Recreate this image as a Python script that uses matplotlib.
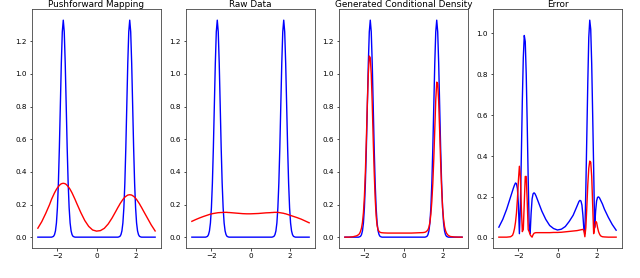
import matplotlib
matplotlib.use("Agg")
import matplotlib.pyplot as plt

# shared x sample positions
x = [-3.0, -2.8, -2.6, -2.4,
     -2.3, -2.25, -2.2, -2.15, -2.1, -2.05, -2.0, -1.95, -1.9, -1.85, -1.8, -1.75, -1.7,
     -1.65, -1.6, -1.55, -1.5, -1.45, -1.4, -1.35, -1.3, -1.25, -1.2, -1.15, -1.1,
     -1.0, -0.8, -0.6, -0.4, -0.2, 0.0, 0.2, 0.4, 0.6, 0.8, 1.0,
     1.1, 1.15, 1.2, 1.25, 1.3, 1.35, 1.4, 1.45, 1.5, 1.55, 1.6, 1.65, 1.7,
     1.75, 1.8, 1.85, 1.9, 1.95, 2.0, 2.05, 2.1, 2.15, 2.2, 2.25, 2.3,
     2.4, 2.6, 2.8, 3.0]

# true conditional density (blue, panels 1-3)
true_density = [0, 0, 0, 0,
                0, 0.002, 0.005, 0.015, 0.038, 0.087, 0.18, 0.331, 0.547, 0.807, 1.065, 1.258, 1.33,
                1.258, 1.065, 0.807, 0.547, 0.331, 0.18, 0.087, 0.038, 0.015, 0.005, 0.002, 0,
                0, 0, 0, 0, 0, 0, 0, 0, 0, 0, 0,
                0, 0.002, 0.005, 0.015, 0.038, 0.087, 0.18, 0.331, 0.547, 0.807, 1.065, 1.258, 1.33,
                1.258, 1.065, 0.807, 0.547, 0.331, 0.18, 0.087, 0.038, 0.015, 0.005, 0.002, 0,
                0, 0, 0, 0]

# pushforward mapping estimate (red, panel 1)
pushforward = [0.055, 0.095, 0.145, 0.20,
               0.232, 0.245, 0.258, 0.271, 0.282, 0.293, 0.302, 0.310, 0.317, 0.323, 0.327, 0.329, 0.33,
               0.329, 0.327, 0.323, 0.317, 0.310, 0.302, 0.293, 0.282, 0.271, 0.258, 0.245, 0.232,
               0.204, 0.150, 0.102, 0.066, 0.044, 0.037, 0.040, 0.054, 0.081, 0.118, 0.161,
               0.183, 0.193, 0.204, 0.213, 0.222, 0.231, 0.238, 0.245, 0.25, 0.254, 0.258, 0.259, 0.26,
               0.259, 0.258, 0.254, 0.25, 0.245, 0.238, 0.231, 0.222, 0.213, 0.204, 0.193, 0.183,
               0.161, 0.118, 0.075, 0.038]

# raw data estimate (red, panel 2)
raw_data = [0.097, 0.108, 0.118, 0.127,
            0.131, 0.133, 0.135, 0.137, 0.139, 0.141, 0.142, 0.144, 0.145, 0.146, 0.147, 0.148, 0.149,
            0.150, 0.150, 0.151, 0.151, 0.151, 0.152, 0.152, 0.152, 0.152, 0.152, 0.151, 0.151,
            0.150, 0.148, 0.146, 0.144, 0.143, 0.143, 0.144, 0.145, 0.147, 0.149, 0.150,
            0.151, 0.151, 0.152, 0.152, 0.152, 0.152, 0.152, 0.151, 0.150, 0.149, 0.148, 0.147, 0.146,
            0.144, 0.143, 0.141, 0.139, 0.137, 0.135, 0.133, 0.131, 0.129, 0.127, 0.125, 0.123,
            0.119, 0.110, 0.099, 0.088]

# generated conditional density (red, panel 3)
generated = [0.0, 0.0, 0.002, 0.008,
             0.015, 0.022, 0.035, 0.055, 0.09, 0.15, 0.25, 0.40, 0.60, 0.82, 1.00, 1.11, 1.10,
             1.00, 0.82, 0.60, 0.40, 0.24, 0.13, 0.07, 0.045, 0.035, 0.030, 0.028, 0.027,
             0.026, 0.025, 0.025, 0.025, 0.025, 0.025, 0.025, 0.025, 0.026, 0.027, 0.028,
             0.030, 0.033, 0.038, 0.045, 0.06, 0.09, 0.14, 0.22, 0.33, 0.48, 0.66, 0.84, 0.95,
             0.94, 0.83, 0.65, 0.46, 0.30, 0.18, 0.11, 0.065, 0.04, 0.025, 0.016, 0.010,
             0.004, 0.001, 0.0, 0.0]

# error of pushforward mapping (blue, panel 4)
error_pushforward = [0.052, 0.09, 0.14, 0.20,
                     0.23, 0.245, 0.258, 0.268, 0.265, 0.24, 0.16, 0.02, 0.15, 0.40, 0.67, 0.88, 0.99,
                     0.96, 0.80, 0.56, 0.29, 0.06, 0.02, 0.12, 0.19, 0.215, 0.22, 0.215, 0.205,
                     0.18, 0.13, 0.09, 0.06, 0.045, 0.038, 0.042, 0.055, 0.08, 0.11, 0.155,
                     0.178, 0.183, 0.18, 0.16, 0.11, 0.04, 0.02, 0.24, 0.50, 0.76, 0.98, 1.065, 1.02,
                     0.85, 0.60, 0.34, 0.05, 0.13, 0.18, 0.198, 0.20, 0.195, 0.185, 0.175, 0.165,
                     0.14, 0.10, 0.065, 0.037]

# error of generated density (red, panel 4)
error_generated = [0.003, 0.003, 0.003, 0.005,
                   0.012, 0.025, 0.045, 0.075, 0.12, 0.19, 0.28, 0.35, 0.30, 0.15, 0.03, 0.04, 0.17,
                   0.30, 0.30, 0.18, 0.04, 0.03, 0.015, 0.008, 0.003, 0.015, 0.022, 0.024, 0.025,
                   0.025, 0.025, 0.025, 0.025, 0.026, 0.026, 0.027, 0.029, 0.031, 0.033, 0.035,
                   0.037, 0.038, 0.039, 0.040, 0.041, 0.035, 0.005, 0.05, 0.15, 0.26, 0.34, 0.375, 0.37,
                   0.30, 0.16, 0.02, 0.05, 0.08, 0.075, 0.05, 0.03, 0.018, 0.01, 0.007, 0.005,
                   0.004, 0.003, 0.003, 0.003]

titles = ["Pushforward Mapping", "Raw Data", "Generated Conditional Density", "Error"]
blue_series = [true_density, true_density, true_density, error_pushforward]
red_series = [pushforward, raw_data, generated, error_generated]
xticks = [-2, 0, 2]
yticks_main = [0.0, 0.2, 0.4, 0.6, 0.8, 1.0, 1.2]
yticks_err = [0.0, 0.2, 0.4, 0.6, 0.8, 1.0]

fig = plt.figure(figsize=(6.4, 2.78), dpi=100)
lefts = [32, 186, 339, 493]
width = 129
bottom = 1 - 248 / 278
height = (248 - 9.3) / 278

for i in range(4):
    ax = fig.add_axes([lefts[i] / 640, bottom, width / 640, height])
    ax.plot(x, blue_series[i], color="blue", lw=1.0)
    ax.plot(x, red_series[i], color="red", lw=1.0)
    ax.set_title(titles[i], fontsize=6.4, pad=1.5)
    ax.set_xticks(xticks)
    ax.set_xticklabels(["\u22122", "0", "2"])
    if i < 3:
        ax.set_yticks(yticks_main)
    else:
        ax.set_yticks(yticks_err)
    ax.set_yticklabels([f"{v:.1f}" for v in ax.get_yticks()])
    ax.tick_params(labelsize=5.2, length=1.8, width=0.5, pad=1.8)
    for s in ax.spines.values():
        s.set_linewidth(0.6)
        s.set_color("#444444")

fig.savefig("out.png", dpi=100)
